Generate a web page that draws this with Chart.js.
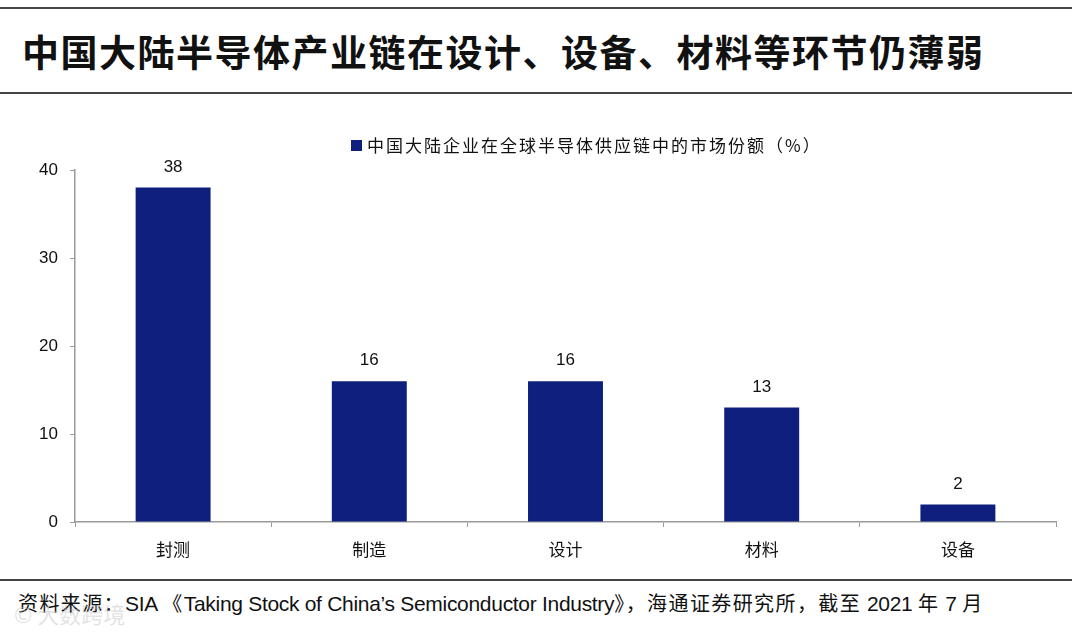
<!DOCTYPE html>
<html>
<head>
<meta charset="utf-8">
<script src="https://cdn.jsdelivr.net/npm/chart.js@4.4.1/dist/chart.umd.min.js"></script>
<style>
  html, body { margin: 0; padding: 0; background: #fff; }
  body { width: 1075px; height: 634px; position: relative; overflow: hidden; font-family: "Noto Sans CJK SC", sans-serif; }
  .rule { position: absolute; left: 0; width: 1072px; height: 2px; background: #444; }
  #title { position: absolute; left: 22px; top: 26px; font-size: 37px; font-weight: bold; letter-spacing: 1.5px; color: #111; white-space: nowrap; line-height: 50px; }
  #chartBox { position: absolute; left: 0; top: 100px; width: 1075px; height: 475px; }
  #source { position: absolute; left: 18px; top: 589px; font-size: 20px; letter-spacing: 1.4px; color: #111; white-space: nowrap; line-height: 28px; }
  #source .en { font-family: "Liberation Sans", Arial, sans-serif; font-size: 21px; letter-spacing: -0.3px; }
  #mark { position: absolute; left: 14px; top: 597px; font-size: 22px; color: rgba(190,190,190,0.45); white-space: nowrap; }
</style>
</head>
<body>
<div class="rule" style="top:7px"></div>
<div id="title">中国大陆半导体产业链在设计、设备、材料等环节仍薄弱</div>
<div class="rule" style="top:92px"></div>
<div id="chartBox"><canvas id="chart" width="1075" height="475"></canvas></div>
<div class="rule" style="top:579px"></div>
<div id="source">资料来源：<span class="en">SIA </span>《<span class="en">Taking Stock of China’s Semiconductor Industry</span>》，海通证券研究所，截至 <span class="en">2021 </span>年 <span class="en">7 </span>月</div>
<div id="mark">© 大数跨境</div>

<script>
// Data
const categories = ["封测", "制造", "设计", "材料", "设备"];
const shareValues = [38, 16, 16, 13, 2];
const seriesName = "中国大陆企业在全球半导体供应链中的市场份额（%）";
const yTicks = [0, 10, 20, 30, 40];

const BAR_COLOR = "#0f1f7d";
const AXIS_COLOR = "#9a9a9a";

// Legend drawn by hand so its spot stays put
const legendPlugin = {
  id: "ownLegend",
  afterDraw(chart) {
    const ctx = chart.ctx;
    const ds = chart.data.datasets[0];
    ctx.save();
    ctx.fillStyle = ds.backgroundColor;
    ctx.fillRect(351, 40, 11, 11);
    ctx.font = '17px "Noto Sans CJK SC"';
    ctx.fillStyle = "#111";
    ctx.textBaseline = "middle";
    ctx.textAlign = "left";
    if ("letterSpacing" in ctx) ctx.letterSpacing = "2px";
    ctx.fillText(ds.label, 367, 46);
    ctx.restore();
  }
};

// Value labels above bars
const valueLabels = {
  id: "valueLabels",
  afterDatasetsDraw(chart) {
    const ctx = chart.ctx;
    const meta = chart.getDatasetMeta(0);
    ctx.save();
    ctx.font = '17px "Liberation Sans", Arial, sans-serif';
    ctx.fillStyle = "#111";
    ctx.textAlign = "center";
    ctx.textBaseline = "bottom";
    meta.data.forEach((bar, i) => {
      ctx.fillText(chart.data.datasets[0].data[i], bar.x, bar.y - 12);
    });
    ctx.restore();
  }
};

new Chart(document.getElementById("chart"), {
  type: "bar",
  data: {
    labels: categories,
    datasets: [{
      label: seriesName,
      data: shareValues,
      backgroundColor: BAR_COLOR,
      categoryPercentage: 1,
      barPercentage: 0.382
    }]
  },
  options: {
    responsive: false,
    animation: false,
    layout: { padding: { top: 70, right: 19, left: 0, bottom: 0 } },
    plugins: { legend: { display: false }, tooltip: { enabled: false } },
    scales: {
      x: {
        grid: { drawOnChartArea: false, drawTicks: true, tickLength: 5, color: AXIS_COLOR, offset: true },
        border: { color: AXIS_COLOR, width: 1.5 },
        ticks: { color: "#111", padding: 12, font: { family: "Noto Sans CJK SC", size: 17 } },
        afterFit: (scale) => { scale.height = 53; }
      },
      y: {
        min: 0,
        max: 40,
        afterBuildTicks: (scale) => { scale.ticks = yTicks.map(v => ({ value: v })); },
        grid: { drawOnChartArea: false, drawTicks: true, tickLength: 5, color: AXIS_COLOR },
        border: { color: AXIS_COLOR, width: 1.5 },
        ticks: { color: "#111", padding: 12, font: { family: "Liberation Sans", size: 17 } },
        afterFit: (scale) => { scale.width = 75; }
      }
    }
  },
  plugins: [legendPlugin, valueLabels]
});
</script>
</body>
</html>
